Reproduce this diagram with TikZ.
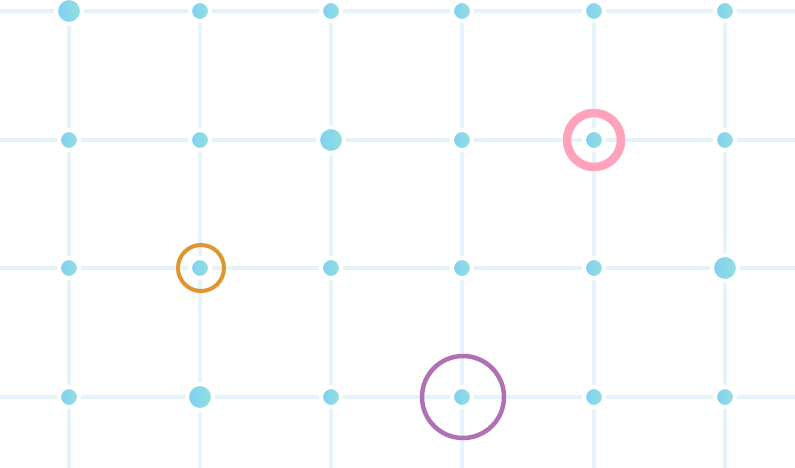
\documentclass[tikz,border=0pt]{standalone}
\begin{document}
\begin{tikzpicture}[x=1pt,y=-1pt]
\definecolor{gridc}{HTML}{E4F4FA}
\definecolor{dl}{HTML}{7DCFF5}
\definecolor{dr}{HTML}{95E0DD}
\tikzset{gl/.style={draw=gridc,line width=3.5pt},
 dot/.style={left color=dl,right color=dr,draw=white,line width=4pt}}
\useasboundingbox (0,0) rectangle (795,468);
\fill[white] (0,0) rectangle (795,468);
\foreach \x in {69,200,331,462,594,725} \draw[gl] (\x,0) -- (\x,468);
\foreach \y in {11,140,268,397} \draw[gl] (0,\y) -- (795,\y);
\foreach \x/\y/\r in {69/11/11,200/11/8,331/11/8,462/11/8,594/11/8,725/11/8,
 69/140/8,200/140/8,331/140/11,462/140/8,594/140/8,725/140/8,
 69/268/8,200/268/8,331/268/8,462/268/8,594/268/8,725/268/11,
 69/397/8,200/397/11,331/397/8,462/397/8,594/397/8,725/397/8}
 \path[dot] (\x,\y) circle (\r+2);
\draw[color={rgb,255:red,255;green,163;blue,186},line width=8.5pt] (594,140) circle (27);
\draw[color={rgb,255:red,224;green,149;blue,47},line width=4pt] (201,268) circle (23);
\draw[color={rgb,255:red,176;green,112;blue,180},line width=4.5pt] (463,397) circle (41);
\end{tikzpicture}
\end{document}
